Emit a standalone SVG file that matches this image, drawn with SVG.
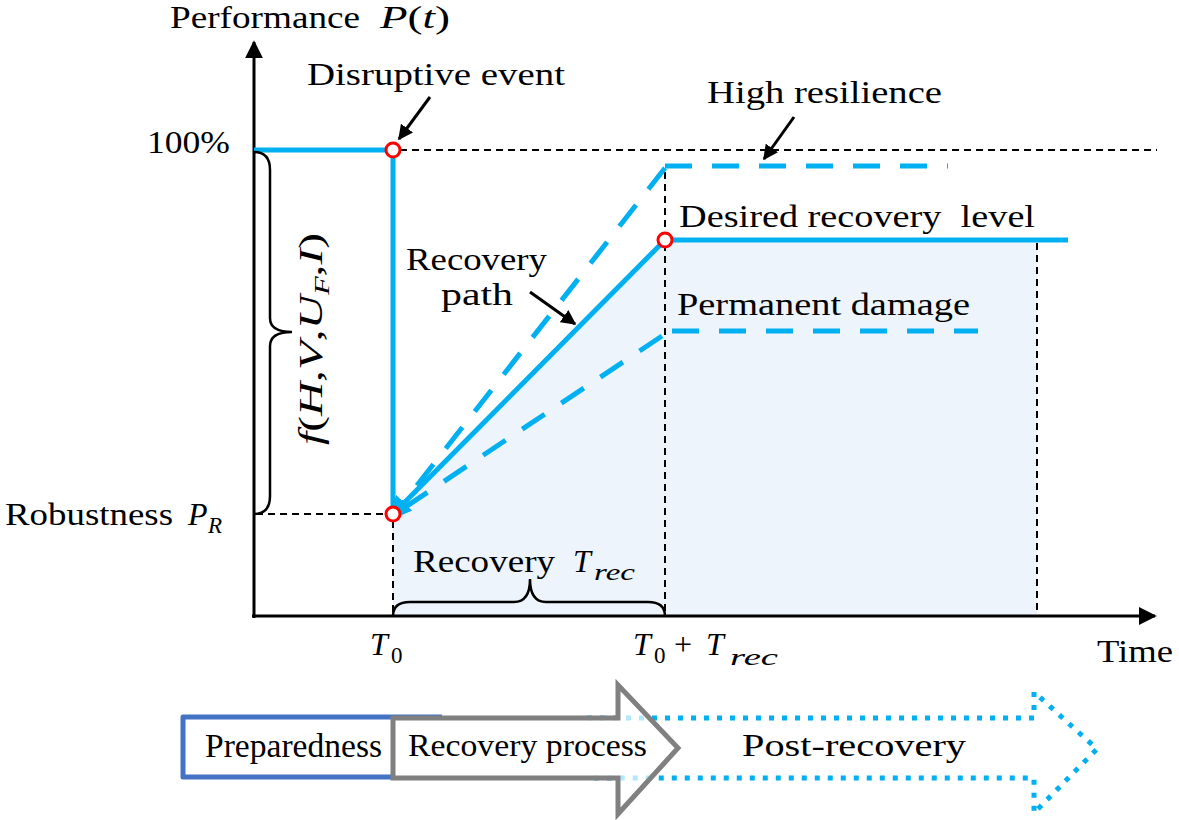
<svg xmlns="http://www.w3.org/2000/svg" width="1179" height="820" viewBox="0 0 1179 820" font-family="'Liberation Serif', 'Times New Roman', serif">
<style>
text { font-family: 'Liberation Serif', 'Times New Roman', serif; fill: #000; font-weight: normal; }
.lbl { font-size: 32px; }
.it { font-style: italic; }
.sub { font-size: 23px; font-style: italic; }
.blue { stroke: #00B0F0; stroke-width: 5; fill: none; }
.bdash { stroke: #00B0F0; stroke-width: 5; fill: none; stroke-dasharray: 27 20; }
.kdash { stroke: #000; stroke-width: 2; fill: none; stroke-dasharray: 7 5; }
.axis { stroke: #000; stroke-width: 3; fill: none; }
.brace { stroke: #000; stroke-width: 2.5; fill: none; }
.pt { fill: #fff; stroke: #FF0000; stroke-width: 3; }
.callout { stroke: #000; stroke-width: 3; fill: none; marker-end: url(#blk); }
</style>
<defs>
<marker id="blk" viewBox="0 0 10 10" refX="9" refY="5" markerWidth="5" markerHeight="5" orient="auto" markerUnits="strokeWidth">
<path d="M0,0 L10,5 L0,10 Z" fill="#000"/>
</marker>
<marker id="axh" viewBox="0 0 10 10" refX="9" refY="5" markerWidth="6" markerHeight="6" orient="auto" markerUnits="strokeWidth">
<path d="M0,0 L10,5 L0,10 Z" fill="#000"/>
</marker>
<marker id="blu" viewBox="0 0 10 10" refX="2" refY="5" markerWidth="4.5" markerHeight="4.5" orient="auto" markerUnits="strokeWidth">
<path d="M0,0 L10,5 L0,10 Z" fill="#00B0F0"/>
</marker>
</defs>

<g id="shading">
<polygon points="393,514 665,240 1037,240 1037,616 393,616" fill="#EDF4FB"/>
</g>

<g id="guides">
<line class="kdash" x1="400" y1="150" x2="1157" y2="150"/>
<line class="kdash" x1="256" y1="514" x2="386" y2="514"/>
<line class="kdash" x1="393" y1="521" x2="393" y2="614"/>
<line class="kdash" x1="665" y1="172" x2="665" y2="614"/>
<line class="kdash" x1="1037" y1="243" x2="1037" y2="614"/>
</g>

<g id="axes">
<line class="axis" x1="254" y1="618" x2="254" y2="42" marker-end="url(#axh)"/>
<line class="axis" x1="252" y1="616" x2="1155" y2="616" marker-end="url(#axh)"/>
</g>

<g id="connectors">
<polyline class="blue" points="254,150 393,150 393,514"/>
<line class="bdash" x1="665" y1="166" x2="948" y2="166"/>
<line class="bdash" x1="672" y1="331" x2="978" y2="331"/>
<line class="blue" x1="665" y1="240" x2="1068" y2="240"/>
<line class="bdash" x1="665" y1="168" x2="400" y2="507" marker-end="url(#blu)"/>
<line class="blue" x1="665" y1="240" x2="401" y2="506" marker-end="url(#blu)"/>
<line class="bdash" x1="662" y1="336" x2="398" y2="512"/>
<line class="callout" x1="430" y1="97" x2="399" y2="139"/>
<line class="callout" x1="794" y1="117" x2="764" y2="159"/>
<line class="callout" x1="530" y1="292" x2="575" y2="324"/>
<path class="brace" d="M254,152 Q270,152 270,170 L270,318 Q270,332 292,332 Q270,332 270,346 L270,496 Q270,514 254,514"/>
<path class="brace" d="M393,616 Q393,602 410,602 L514,602 Q530,602 530,579 Q530,602 546,602 L648,602 Q665,602 665,616"/>
</g>

<g id="points">
<circle class="pt" cx="393" cy="150" r="7"/>
<circle class="pt" cx="393" cy="514" r="7"/>
<circle class="pt" cx="665" cy="240" r="7"/>
</g>

<g id="labels">
<text class="lbl" x="170" y="28" textLength="190" lengthAdjust="spacingAndGlyphs">Performance</text>
<text class="lbl" x="380" y="28" textLength="70" lengthAdjust="spacingAndGlyphs"><tspan class="it">P</tspan>(<tspan class="it">t</tspan>)</text>
<text class="lbl" x="307" y="85" textLength="258" lengthAdjust="spacingAndGlyphs">Disruptive event</text>
<text class="lbl" x="147" y="153" textLength="83" lengthAdjust="spacingAndGlyphs">100%</text>
<text class="lbl" x="707" y="103" textLength="235" lengthAdjust="spacingAndGlyphs">High resilience</text>
<text class="lbl" x="679" y="227" textLength="356" lengthAdjust="spacingAndGlyphs" xml:space="preserve">Desired recovery  level</text>
<text class="lbl" x="406" y="270" textLength="141" lengthAdjust="spacingAndGlyphs">Recovery</text>
<text class="lbl" x="441" y="305" textLength="72" lengthAdjust="spacingAndGlyphs">path</text>
<text class="lbl" x="677" y="315" textLength="293" lengthAdjust="spacingAndGlyphs">Permanent damage</text>
<text class="lbl" x="5" y="525" textLength="168" lengthAdjust="spacingAndGlyphs">Robustness</text>
<text class="lbl it" x="188" y="525">P</text>
<text class="sub" x="208" y="533">R</text>
<text class="lbl" transform="translate(322,445) rotate(-90)" x="0" y="0" textLength="212" lengthAdjust="spacingAndGlyphs" style="font-size:34px"><tspan class="it">f</tspan>(<tspan class="it">H</tspan>,<tspan class="it">V</tspan>,<tspan class="it">U</tspan><tspan class="it" dy="7" style="font-size:22px">F</tspan><tspan dy="-7">,</tspan><tspan class="it">I</tspan>)</text>
<text class="lbl" x="413" y="572" textLength="142" lengthAdjust="spacingAndGlyphs">Recovery</text>
<text class="lbl it" x="573" y="572">T</text>
<text class="sub" x="594" y="580" textLength="41" lengthAdjust="spacingAndGlyphs">rec</text>
<text class="lbl it" x="370" y="655">T</text>
<text class="sub" x="391" y="663" style="font-style:normal">0</text>
<text class="lbl it" x="633" y="655">T</text>
<text class="sub" x="654" y="663" style="font-style:normal">0</text>
<text class="lbl" x="674" y="655">+</text>
<text class="lbl it" x="706" y="655">T</text>
<text class="sub" x="730" y="665" textLength="48" lengthAdjust="spacingAndGlyphs">rec</text>
<text class="lbl" x="1097" y="662" textLength="76" lengthAdjust="spacingAndGlyphs">Time</text>
</g>

<g id="phase-post">
<path d="M587,718 L1034,718 L1034,692 L1097,749 L1034,813 L1034,778 L587,778" fill="none" stroke="#00B0F0" stroke-width="5" stroke-dasharray="5 8"/>
<text class="lbl" x="742" y="756" textLength="224" lengthAdjust="spacingAndGlyphs">Post-recovery</text>
</g>

<g id="phase-prep">
<path d="M442,717 L183,717 L183,777 L393,777" fill="none" stroke="#4472C4" stroke-width="5" stroke-linejoin="round"/>
<text x="205" y="757" style="font-size:33px" textLength="177" lengthAdjust="spacingAndGlyphs">Preparedness</text>
</g>

<g id="phase-recovery">
<path d="M393,718 L618,718 L618,685 L678,748 L618,814 L618,778 L393,778 Z" fill="#fff" fill-opacity="0.7" stroke="#808080" stroke-width="5"/>
<text class="lbl" x="408" y="756" textLength="239" lengthAdjust="spacingAndGlyphs">Recovery process</text>
</g>
</svg>
